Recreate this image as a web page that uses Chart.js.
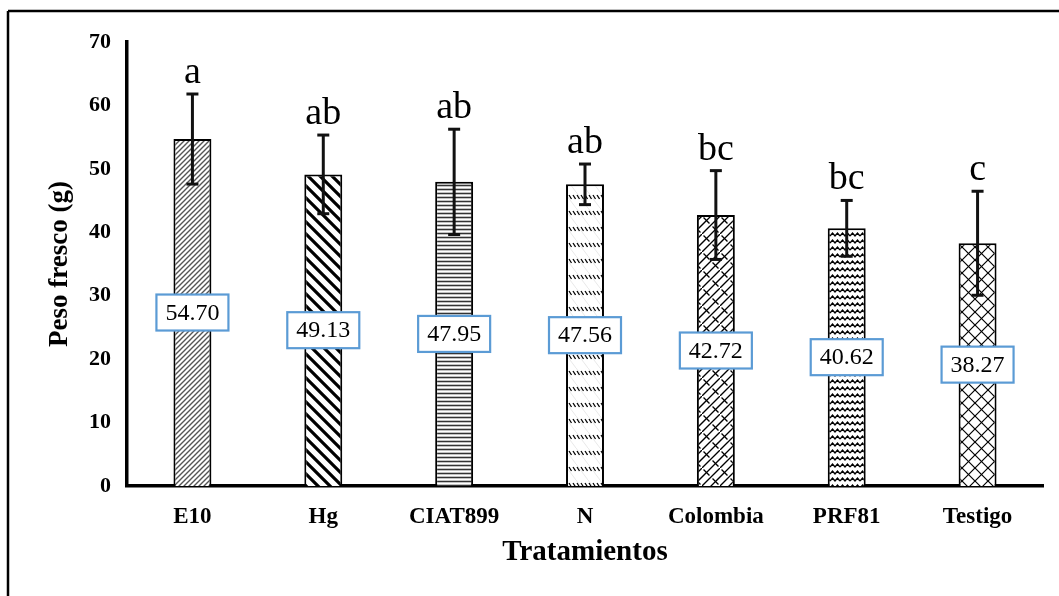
<!DOCTYPE html>
<html>
<head>
<meta charset="utf-8">
<script src="https://cdn.jsdelivr.net/npm/chart.js@4/dist/chart.umd.min.js"></script>
<style>
  body { margin: 0; background: #fff; }
  #wrap { width: 1059px; height: 596px; }
</style>
</head>
<body>
<div id="wrap"><canvas id="chart" width="1059" height="596"></canvas></div>
<script>
// data
var categories = ["E10", "Hg", "CIAT899", "N", "Colombia", "PRF81", "Testigo"];
var means = [54.70, 49.13, 47.95, 47.56, 42.72, 40.62, 38.27];
var errors = [7.1, 6.2, 8.3, 3.2, 7.0, 4.4, 8.2];
var letters = ["a", "ab", "ab", "ab", "bc", "bc", "c"];
var yTicks = [0, 10, 20, 30, 40, 50, 60, 70];

// hatch fills, one per treatment
function pattern(w, h, draw) {
    var c = document.createElement("canvas");
    c.width = w; c.height = h;
    var g = c.getContext("2d");
    g.fillStyle = "#fff";
    g.fillRect(0, 0, w, h);
    g.strokeStyle = "#000";
    g.lineCap = "square";
    draw(g, w, h);
    return g.createPattern(c, "repeat");
}
function seg(g, x1, y1, x2, y2) {
    g.beginPath(); g.moveTo(x1, y1); g.lineTo(x2, y2); g.stroke();
}

var fills = [
    pattern(5, 5, function(g) {            // fine forward diagonal
        g.strokeStyle = "#555"; g.lineWidth = 1.4;
        seg(g, -1, 6, 6, -1); seg(g, -1, 1, 1, -1); seg(g, 4, 6, 6, 4);
    }),
    pattern(12, 12, function(g) {          // wide back diagonal
        g.lineWidth = 3.2;
        seg(g, -2, -2, 14, 14); seg(g, -8, 4, 2, 14); seg(g, 4, -8, 14, 2);
    }),
    pattern(4, 4, function(g) {            // horizontal lines
        g.strokeStyle = "#333"; g.lineWidth = 1.6; g.lineCap = "butt";
        seg(g, 0, 1.5, 4, 1.5);
    }),
    pattern(12, 16, function(g) {          // dashed back diagonal
        g.strokeStyle = "#e2e2e2"; g.lineWidth = 0.8;
        seg(g, 0, 0, 12, 16);
        g.strokeStyle = "#000"; g.lineWidth = 1.3; g.lineCap = "butt";
        seg(g, 1, 3, 3.5, 7); seg(g, 5, 3, 7.5, 7); seg(g, 9, 3, 11.5, 7);
    }),
    pattern(18, 18, function(g) {          // weave
        g.lineWidth = 1.3;
        seg(g, -1, 19, 19, -1); seg(g, -1, 10, 10, -1); seg(g, 8, 19, 19, 8);
        seg(g, 2, 2, 7, 7); seg(g, 11, 11, 16, 16);
    }),
    pattern(10, 7, function(g) {           // zigzag waves
        g.lineWidth = 1.4; g.lineCap = "butt";
        g.beginPath();
        g.moveTo(0, 5); g.lineTo(2.5, 2); g.lineTo(5, 5); g.lineTo(7.5, 2); g.lineTo(10, 5);
        g.stroke();
    }),
    pattern(13, 13, function(g) {          // diamond crosshatch
        g.lineWidth = 1.2;
        seg(g, -1, -1, 14, 14); seg(g, -1, 14, 14, -1);
    })
];

var serif = "'Liberation Serif', 'Times New Roman', serif";

var extras = {
    id: "extras",
    beforeDraw: function(chart) {
        var ctx = chart.ctx;
        ctx.save();
        ctx.fillStyle = "#fff";
        ctx.fillRect(0, 0, chart.width, chart.height);
        ctx.strokeStyle = "#000";
        ctx.lineWidth = 2.5;
        seg(ctx, 8, 11, chart.width, 11);
        seg(ctx, 8, 11, 8, chart.height);
        ctx.restore();
    },
    afterDatasetsDraw: function(chart) {
        var ctx = chart.ctx;
        var y = chart.scales.y;
        var bars = chart.getDatasetMeta(0).data;
        ctx.save();
        bars.forEach(function(bar, i) {
            var top = y.getPixelForValue(means[i] + errors[i]);
            var bot = y.getPixelForValue(means[i] - errors[i]);
            ctx.strokeStyle = "#111";
            ctx.lineWidth = 3;
            ctx.lineCap = "butt";
            seg(ctx, bar.x, top, bar.x, bot);
            seg(ctx, bar.x - 6, top, bar.x + 6, top);
            seg(ctx, bar.x - 6, bot, bar.x + 6, bot);

            ctx.fillStyle = "#000";
            ctx.font = "38px " + serif;
            ctx.textAlign = "center";
            ctx.textBaseline = "alphabetic";
            ctx.fillText(letters[i], bar.x, top - 11);
        });
        bars.forEach(function(bar, i) {
            var cy = y.getPixelForValue(means[i] / 2);
            ctx.fillStyle = "#fff";
            ctx.fillRect(bar.x - 36, cy - 18, 72, 36);
            ctx.strokeStyle = "#5B9BD5";
            ctx.lineWidth = 2.2;
            ctx.strokeRect(bar.x - 36, cy - 18, 72, 36);
            ctx.fillStyle = "#000";
            ctx.font = "24px " + serif;
            ctx.textAlign = "center";
            ctx.textBaseline = "middle";
            ctx.fillText(means[i].toFixed(2), bar.x, cy + 1);
        });
        ctx.restore();
    }
};

new Chart(document.getElementById("chart"), {
    type: "bar",
    data: {
        labels: categories,
        datasets: [{
            label: "Peso fresco",
            data: means,
            backgroundColor: fills,
            borderColor: "#000",
            borderWidth: 2,
            categoryPercentage: 1,
            barPercentage: 0.29
        }]
    },
    options: {
        responsive: false,
        animation: false,
        layout: { padding: { top: 42, right: 16, left: 0, bottom: 0 } },
        plugins: { legend: { display: false }, tooltip: { enabled: false } },
        scales: {
            x: {
                grid: { display: false, drawTicks: false },
                border: { color: "#000", width: 3.5 },
                ticks: { color: "#000", padding: 17, font: { family: serif, size: 23, weight: "bold" } },
                title: {
                    display: true, text: "Tratamientos", color: "#000",
                    font: { family: serif, size: 29, weight: "bold" },
                    padding: { top: 0, bottom: 26 }
                },
                afterFit: function(s) { s.height = 110; }
            },
            y: {
                min: 0, max: 70,
                grid: { display: false, drawTicks: false },
                border: { color: "#000", width: 3.5 },
                afterBuildTicks: function(s) { s.ticks = yTicks.map(function(v) { return { value: v }; }); },
                ticks: { color: "#000", padding: 16, font: { family: serif, size: 22, weight: "bold" } },
                title: {
                    display: true, text: "Peso fresco (g)", color: "#000",
                    font: { family: serif, size: 27, weight: "bold" },
                    padding: { top: 44, bottom: 0 }
                },
                afterFit: function(s) { s.width = 127; }
            }
        }
    },
    plugins: [extras]
});
</script>
</body>
</html>
